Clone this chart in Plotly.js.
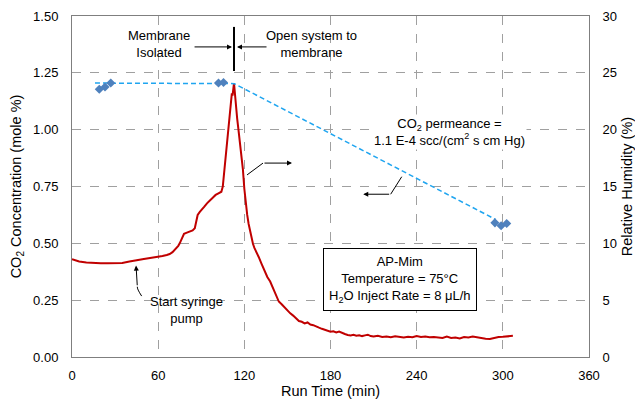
<!DOCTYPE html>
<html>
<head>
<meta charset="utf-8">
<script src="https://cdn.plot.ly/plotly-3.0.1.min.js"></script>
<style>html,body{margin:0;padding:0;background:#fff;}#chart{width:635px;height:400px;}</style>
</head>
<body>
<div id="chart"></div>
<script>
// CO2 concentration (mole %) vs run time (min)
var co2Time = [0,2,5,10,15,20,25,30,35,40,43,46,50,55,60,63,66,68,70,72,74,75,76,77,78,80,82,84,85.5,86.5,87.5,89,90.5,92,94,96,98,100,102,104,105,105.5,106,107,108,109,110,110.7,111.3,111.8,112.3,112.8,113.3,114,115,116,117,118,119,120,121,122,123,124,125,126,127,128,129,130,132,134,136,138,140,142,144,146,148,150,152,154,156,158,160,162,164,166,168,170,172,174,176,178,180,182,184,186,188,190,192,194,196,198,200,202,204,206,208,210,213,216,219,222,225,228,231,234,237,240,243,246,249,252,255,258,261,264,267,270,273,276,279,282,285,288,291,294,297,300,303,307];
var co2Conc = [0.430,0.425,0.420,0.416,0.413,0.412,0.412,0.412,0.414,0.420,0.425,0.427,0.431,0.435,0.440,0.444,0.449,0.453,0.461,0.473,0.489,0.500,0.515,0.535,0.542,0.547,0.551,0.557,0.566,0.590,0.625,0.638,0.648,0.660,0.676,0.690,0.703,0.713,0.720,0.727,0.750,0.785,0.820,0.880,0.940,1.010,1.080,1.130,1.160,1.150,1.195,1.205,1.170,1.110,1.050,0.995,0.945,0.895,0.825,0.740,0.665,0.625,0.585,0.550,0.522,0.498,0.480,0.468,0.455,0.440,0.410,0.378,0.352,0.332,0.300,0.268,0.244,0.232,0.218,0.204,0.192,0.182,0.170,0.158,0.155,0.148,0.152,0.143,0.140,0.136,0.129,0.124,0.119,0.115,0.111,0.113,0.108,0.112,0.105,0.101,0.097,0.095,0.098,0.094,0.096,0.092,0.095,0.098,0.092,0.090,0.093,0.088,0.090,0.087,0.091,0.088,0.086,0.089,0.087,0.092,0.088,0.090,0.087,0.088,0.086,0.084,0.090,0.084,0.086,0.082,0.088,0.086,0.090,0.086,0.084,0.080,0.079,0.084,0.088,0.089,0.090,0.093];

// Relative humidity (%) measurements
var rhTime = [19, 23, 27, 102, 105.5, 294.5, 298.8, 302.7];
var rhValue = [23.55, 23.75, 24.1, 24.1, 24.15, 11.8, 11.55, 11.75];

// Dashed trend guide for relative humidity
var trendTime = [16, 113, 295];
var trendValue = [24.1, 24.05, 12.1];

// Axis ticks
var xTicks = [0, 60, 120, 180, 240, 300, 360];
var yTicks = [0, 0.25, 0.5, 0.75, 1.0, 1.25, 1.5];
var y2Ticks = [0, 5, 10, 15, 20, 25, 30];

var FONT = 'Liberation Sans, Arial, sans-serif';

var traces = [
  {x: trendTime, y: trendValue, yaxis: 'y2', mode: 'lines', type: 'scatter',
   line: {color: '#1fa5f0', width: 1.5, dash: '5px,3px'}, hoverinfo: 'skip', showlegend: false},
  {x: rhTime, y: rhValue, yaxis: 'y2', mode: 'markers', type: 'scatter',
   marker: {symbol: 'diamond', size: 7, color: '#4f81bd'}, showlegend: false},
  {x: co2Time, y: co2Conc, mode: 'lines', type: 'scatter',
   line: {color: '#c00000', width: 2}, showlegend: false}
];

var arrowStyle = {showarrow: true, arrowhead: 2, arrowsize: 1, arrowwidth: 1, arrowcolor: '#000',
  text: '', xref: 'x', yref: 'y', axref: 'x', ayref: 'y', standoff: 0, startstandoff: 0};
function arrow(x0, y0, x1, y1) {
  return Object.assign({}, arrowStyle, {ax: x0, ay: y0, x: x1, y: y1});
}

var annotations = [
  {xref: 'x', yref: 'y', x: 60.6, y: 1.375, text: 'Membrane<br>Isolated', showarrow: false,
   font: {family: FONT, size: 13, color: '#000'}},
  {xref: 'x', yref: 'y', x: 166.9, y: 1.375, text: 'Open system to<br>membrane', showarrow: false,
   font: {family: FONT, size: 13, color: '#000'}},
  arrow(84.3, 1.364, 111.4, 1.364),
  arrow(136.5, 1.364, 114.9, 1.364),
  arrow(133, 0.853, 153.2, 0.853),
  arrow(221.9, 0.716, 202.8, 0.716),
  arrow(45.5, 0.309, 44.6, 0.402),
  {xref: 'x', yref: 'y', x: 263.2, y: 0.99, text: 'CO<sub>2</sub> permeance =<br>1.1 E-4 scc/(cm<sup>2</sup> s cm Hg)',
   showarrow: false, bgcolor: '#fff', font: {family: FONT, size: 13, color: '#000'}},
  {xref: 'x', yref: 'y', x: 79.9, y: 0.207, text: 'Start syringe<br>pump', showarrow: false,
   font: {family: FONT, size: 13, color: '#000'}},
  {xref: 'x', yref: 'y', x: 228.7, y: 0.342, text: 'AP-Mim<br>Temperature = 75°C<br>H<sub>2</sub>O Inject Rate = 8 μL/h',
   showarrow: false, bgcolor: '#fff', bordercolor: '#000', borderwidth: 1, borderpad: 5,
   font: {family: FONT, size: 13, color: '#000'}}
];

var shapes = [
  {type: 'line', xref: 'x', yref: 'y', x0: 112.8, x1: 112.8, y0: 1.258, y1: 1.452, line: {color: '#000', width: 2}},
  {type: 'line', xref: 'x', yref: 'y', x0: 121.9, y0: 0.801, x1: 133, y1: 0.853, line: {color: '#000', width: 1}},
  {type: 'line', xref: 'x', yref: 'y', x0: 229.6, y0: 0.793, x1: 221.9, y1: 0.716, line: {color: '#000', width: 1}},
  {type: 'path', xref: 'x', yref: 'y', path: 'M 48.5 0.268 Q 45.2 0.300 45.5 0.309', line: {color: '#000', width: 1}}
];

var gridStyle = {showgrid: true, gridcolor: '#a0a0a0', griddash: 'dash', gridwidth: 1};

var layout = {
  width: 635, height: 400,
  margin: {l: 72, r: 46, t: 16, b: 43},
  paper_bgcolor: '#fff', plot_bgcolor: '#fff',
  font: {family: FONT, size: 13, color: '#000'},
  xaxis: Object.assign({
    range: [0, 360], tickvals: xTicks, ticktext: xTicks.map(String),
    showline: true, linecolor: '#7f7f7f', linewidth: 1, mirror: true,
    zeroline: false, ticks: '', ticklabelstandoff: 6,
    title: {text: 'Run Time (min)', font: {family: FONT, size: 14.5}, standoff: 0}
  }, gridStyle),
  yaxis: Object.assign({
    range: [0, 1.5], tickvals: yTicks, ticktext: yTicks.map(function(v){return v.toFixed(2);}),
    showline: true, linecolor: '#7f7f7f', linewidth: 1, mirror: true,
    zeroline: false, ticks: '', ticklabelstandoff: 10,
    title: {text: 'CO<sub>2</sub> Concentration (mole %)', font: {family: FONT, size: 14.5}, standoff: 8}
  }, gridStyle),
  yaxis2: {
    range: [0, 30], tickvals: y2Ticks, ticktext: y2Ticks.map(String),
    overlaying: 'y', side: 'right', showgrid: false, zeroline: false,
    showline: true, linecolor: '#7f7f7f', linewidth: 1, ticks: '', ticklabelstandoff: 10,
    title: {text: 'Relative Humidity (%)', font: {family: FONT, size: 14.5}, standoff: 6}
  },
  annotations: annotations,
  shapes: shapes,
  showlegend: false
};

Plotly.newPlot('chart', traces, layout, {staticPlot: true, displayModeBar: false});
</script>
</body>
</html>
